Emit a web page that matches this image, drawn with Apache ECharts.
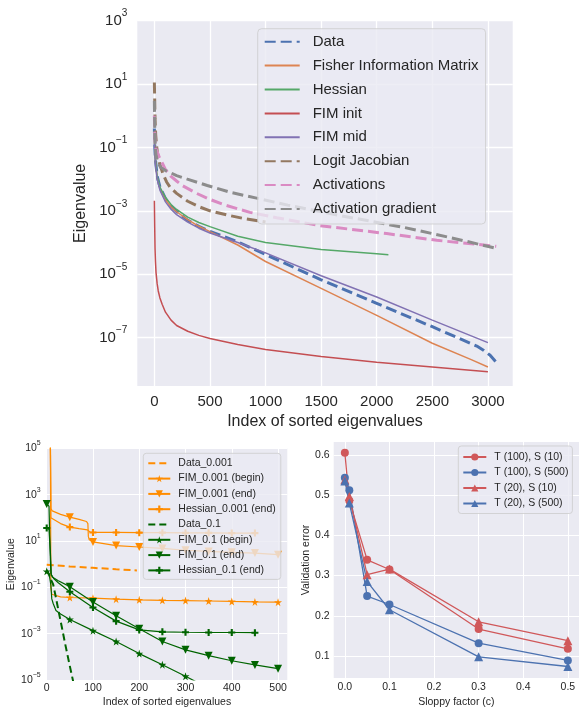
<!DOCTYPE html>
<html>
<head>
<meta charset="utf-8">
<script src="https://cdn.jsdelivr.net/npm/echarts@6/dist/echarts.min.js"></script>
<style>
  html, body { margin: 0; padding: 0; background: #ffffff; }
  #chart { width: 579px; height: 709px; }
</style>
</head>
<body>
<div id="chart"></div>
<script>
// ---------- Top panel: eigenvalue spectra ----------
const topDataIdx = [0, 4, 10, 25, 50, 100, 150, 200, 300, 400, 500, 750, 1000, 1500, 2000, 2500, 2900, 2960, 3020, 3072];
const topDataEig = [0.398, 0.1, 0.0398, 0.0126, 5.62e-3, 2.40e-3, 1.41e-3, 9.55e-4, 5.01e-4, 3.24e-4, 2.24e-4, 1.05e-4, 4.17e-5, 6.61e-6, 1.20e-6, 2.19e-7, 5.37e-8, 3.98e-8, 2.75e-8, 1.70e-8];

const fimIdx = [0, 4, 10, 25, 50, 100, 150, 200, 300, 400, 500, 750, 1000, 1500, 2000, 2500, 2850, 3000];
const fimEig = [0.316, 0.0794, 0.0355, 0.0112, 5.01e-3, 2.24e-3, 1.32e-3, 9.33e-4, 5.25e-4, 3.24e-4, 2.19e-4, 8.32e-5, 2.51e-5, 3.55e-6, 5.01e-7, 6.61e-8, 2.00e-8, 1.17e-8];

const hessIdx = [0, 4, 10, 25, 50, 100, 150, 200, 300, 400, 500, 750, 1000, 1500, 2000, 2105];
const hessEig = [0.316, 0.0794, 0.0355, 0.0120, 5.62e-3, 2.63e-3, 1.58e-3, 1.10e-3, 6.31e-4, 4.27e-4, 3.16e-4, 1.58e-4, 1.0e-4, 6.03e-5, 4.37e-5, 4.07e-5];

const fimInitIdx = [0, 3, 6, 10, 15, 25, 35, 50, 70, 100, 150, 200, 300, 400, 500, 750, 1000, 1500, 2000, 2500, 3000];
const fimInitEig = [2.09e-3, 3.16e-4, 6.31e-5, 2.51e-5, 1.12e-5, 5.01e-6, 2.95e-6, 1.78e-6, 1.12e-6, 6.31e-7, 3.55e-7, 2.40e-7, 1.58e-7, 1.17e-7, 9.33e-8, 6.03e-8, 4.17e-8, 2.51e-8, 1.66e-8, 1.17e-8, 8.32e-9];

const fimMidIdx = [0, 4, 10, 25, 50, 100, 150, 200, 300, 400, 500, 750, 1000, 1500, 2000, 2500, 3000];
const fimMidEig = [0.251, 0.0631, 0.0282, 0.01, 4.47e-3, 1.91e-3, 1.12e-3, 7.59e-4, 4.37e-4, 2.82e-4, 2.0e-4, 1.0e-4, 4.68e-5, 8.91e-6, 1.91e-6, 3.55e-7, 6.92e-8];

const logitIdx = [0, 3, 6, 12, 20, 30, 50, 80, 110, 140, 200, 300, 400, 500, 650, 800, 1000];
const logitEig = [11.2, 3.16, 0.794, 0.251, 0.112, 0.0603, 0.0282, 0.0141, 8.13e-3, 5.62e-3, 3.55e-3, 2.0e-3, 1.35e-3, 1.0e-3, 7.41e-4, 5.75e-4, 4.47e-4];

const actIdx = [0, 3, 8, 15, 27, 45, 72, 100, 144, 200, 250, 380, 500, 620, 860, 1100, 1490, 2090, 2540, 3075];
const actEig = [1.0, 0.316, 0.126, 0.0891, 0.0708, 0.0479, 0.0316, 0.0200, 0.0126, 8.71e-3, 6.31e-3, 3.55e-3, 2.29e-3, 1.58e-3, 8.91e-4, 6.03e-4, 3.39e-4, 1.91e-4, 1.17e-4, 7.59e-5];

const actGradIdx = [0, 3, 8, 15, 25, 40, 57, 100, 147, 200, 296, 476, 686, 920, 1200, 1670, 2240, 2500, 2800, 3055];
const actGradEig = [2.95, 0.501, 0.1, 0.0562, 0.0398, 0.0295, 0.0234, 0.0186, 0.0158, 0.0129, 0.01, 6.31e-3, 3.80e-3, 2.51e-3, 1.51e-3, 7.08e-4, 3.02e-4, 1.91e-4, 1.10e-4, 6.76e-5];

const topXTicks = [0, 500, 1000, 1500, 2000, 2500, 3000];
const topYTicks = [1e-7, 1e-5, 1e-3, 1e-1, 1e1, 1e3];

// ---------- Bottom-left panel: spectra for two sloppy factors ----------
const data001Idx = [0, 50, 100, 150, 195];
const data001Eig = [0.933, 0.794, 0.692, 0.603, 0.537];

const fimBegin001Idx = [0, 8, 9, 11, 15, 30, 50, 100, 150, 200, 250, 300, 350, 400, 450, 500];
const fimBegin001Eig = [3.16e5, 1.58e5, 0.1, 0.0501, 0.0437, 0.0389, 0.0363, 0.0339, 0.0309, 0.0288, 0.0275, 0.0269, 0.0257, 0.0245, 0.0234, 0.0229];

const fimEnd001Idx = [0, 8, 9, 12, 30, 50, 70, 86, 89, 90, 92, 100, 150, 200, 250, 300, 350, 400, 450, 500];
const fimEnd001Eig = [3.16e5, 1.58e5, 251, 200, 141, 107, 85.1, 69.2, 56.2, 15.8, 11.2, 9.12, 6.31, 5.50, 4.79, 3.98, 3.55, 3.24, 3.02, 2.57];

const hessEnd001Idx = [0, 8, 9, 12, 30, 50, 70, 88, 91, 95, 100, 150, 200, 250, 300, 350, 400, 450];
const hessEnd001Eig = [3.16e5, 1.58e5, 100, 83.2, 56.2, 39.8, 33.9, 30.2, 25.1, 23.4, 23.4, 23.4, 22.9, 22.9, 22.4, 22.4, 21.9, 21.9];

const data01Idx = [0, 5, 10, 14, 20, 25, 32, 40, 50, 62];
const data01Eig = [0.562, 0.355, 0.2, 0.132, 0.0355, 0.011, 2.24e-3, 3.55e-4, 3.98e-5, 3.16e-6];

const fimBegin01Idx = [0, 5, 9, 11, 14, 20, 30, 50, 100, 150, 200, 250, 300, 335];
const fimBegin01Eig = [0.490, 0.398, 0.126, 0.0316, 0.02, 0.01, 7.08e-3, 4.07e-3, 1.35e-3, 4.57e-4, 1.38e-4, 4.57e-5, 1.45e-5, 6.31e-6];

const fimEnd01Idx = [0, 5, 7, 9, 12, 25, 50, 100, 150, 200, 250, 300, 350, 400, 450, 500];
const fimEnd01Eig = [398, 316, 6.31, 0.398, 0.282, 0.191, 0.107, 0.0234, 5.89e-3, 1.62e-3, 4.57e-4, 2.0e-4, 1.12e-4, 6.76e-5, 4.47e-5, 3.09e-5];

const hessEnd01Idx = [0, 5, 8, 10, 15, 25, 50, 100, 150, 200, 250, 300, 350, 400, 450];
const hessEnd01Eig = [36.3, 31.6, 3.16, 0.355, 0.24, 0.158, 0.0646, 0.0135, 3.47e-3, 1.45e-3, 1.20e-3, 1.15e-3, 1.12e-3, 1.12e-3, 1.10e-3];

const blXTicks = [0, 100, 200, 300, 400, 500];
const blYTicks = [1e-5, 1e-3, 1e-1, 1e1, 1e3, 1e5];

// ---------- Bottom-right panel: validation error vs sloppy factor ----------
const sloppy = [0.0, 0.01, 0.05, 0.1, 0.3, 0.5];
const errT100S10 = [0.605, 0.486, 0.339, 0.315, 0.167, 0.118];
const errT100S500 = [0.543, 0.512, 0.249, 0.228, 0.132, 0.089];
const errT20S10 = [0.538, 0.496, 0.302, 0.316, 0.185, 0.138];
const errT20S500 = [0.535, 0.480, 0.285, 0.215, 0.098, 0.074];

const brXTicks = [0.0, 0.1, 0.2, 0.3, 0.4, 0.5];
const brYTicks = [0.1, 0.2, 0.3, 0.4, 0.5, 0.6];

// ---------- helpers ----------
const FONT = "'Liberation Sans', Arial, sans-serif";
const INK = '#262626';
const PANEL = '#EAEAF2';

const STAR = 'path://M50,0 L61,35 L98,35 L68,57 L79,91 L50,70 L21,91 L32,57 L2,35 L39,35 Z';
const TRI_DOWN = 'path://M0,0 L100,0 L50,87 Z';
const PLUS = 'path://M35,0 H65 V35 H100 V65 H65 V100 H35 V65 H0 V35 H35 Z';

function pairs(xs, ys) { return xs.map((x, i) => [x, ys[i]]); }
// markers only every `step` indices
function marked(xs, ys, step) {
  return xs.map((x, i) => (x % step === 0) ? [x, ys[i]] : { value: [x, ys[i]], symbol: 'none' });
}
function powLabel(v) {
  const e = Math.round(Math.log10(v));
  return '{b|10}{s|' + (e < 0 ? '\u2212' + (-e) : e) + '}';
}
function supRich(big, small, lh) {
  return {
    b: { fontSize: big, fontFamily: FONT, color: INK, lineHeight: lh },
    s: { fontSize: small, fontFamily: FONT, color: INK, verticalAlign: 'top', lineHeight: small }
  };
}
const gridLine = (w) => ({ show: true, lineStyle: { color: '#ffffff', width: w } });
// legend entry that shows only the line sample
const lineOnly = (name) => ({ name, itemStyle: { opacity: 0 } });

const dashLong = [11, 5];
function topLine(name, xs, ys, color, dashed) {
  return {
    name, type: 'line', xAxisIndex: 0, yAxisIndex: 0,
    data: pairs(xs, ys), symbol: 'none',
    lineStyle: { color, width: dashed ? 3 : 1.5, type: dashed ? dashLong : 'solid' },
    itemStyle: { color }, z: 2
  };
}
function blLine(name, xs, ys, color, symbol, dashed, size) {
  return {
    name, type: 'line', xAxisIndex: 1, yAxisIndex: 1,
    data: symbol ? marked(xs, ys, 50) : pairs(xs, ys),
    symbol: symbol || 'none', symbolSize: size || 7,
    lineStyle: { color, width: dashed ? 2 : 1.2, type: dashed ? [7, 4] : 'solid' },
    itemStyle: { color }, z: 2
  };
}
function brLine(name, ys, color, symbol) {
  return {
    name, type: 'line', xAxisIndex: 2, yAxisIndex: 2,
    data: pairs(sloppy, ys), symbol, symbolSize: symbol === 'circle' ? 8 : 9,
    lineStyle: { color, width: 1.3 }, itemStyle: { color }, z: 2
  };
}

const ORANGE = '#FF8C00';
const GREEN = '#006400';
const RED = '#D0585A';
const BLUE = '#4C72B0';

const option = {
  animation: false,
  backgroundColor: '#ffffff',
  textStyle: { fontFamily: FONT, color: INK },
  grid: [
    { left: 137.3, top: 20.7, width: 375.4, height: 365.3, show: true, backgroundColor: PANEL, borderWidth: 0, containLabel: false },
    { left: 46.7, top: 448.3, width: 240.6, height: 232.4, show: true, backgroundColor: PANEL, borderWidth: 0, containLabel: false },
    { left: 333.7, top: 442, width: 248.3, height: 238.7, show: true, backgroundColor: PANEL, borderWidth: 0, containLabel: false }
  ],
  xAxis: [
    {
      type: 'value', gridIndex: 0, min: -153.5, max: 3223,
      axisLine: { show: false }, axisTick: { show: false, customValues: topXTicks },
      axisLabel: { customValues: topXTicks, fontSize: 15, color: INK, fontFamily: FONT, margin: 8,
                   formatter: (v) => String(v) },
      splitLine: gridLine(1.3),
      name: 'Index of sorted eigenvalues', nameLocation: 'middle', nameGap: 21,
      nameTextStyle: { fontSize: 16, color: INK, fontFamily: FONT }
    },
    {
      type: 'value', gridIndex: 1, min: 0, max: 520,
      axisLine: { show: false }, axisTick: { show: false, customValues: blXTicks },
      axisLabel: { customValues: blXTicks, fontSize: 10.5, color: INK, fontFamily: FONT, margin: 3,
                   formatter: (v) => String(v) },
      splitLine: gridLine(1),
      name: 'Index of sorted eigenvalues', nameLocation: 'middle', nameGap: 17,
      nameTextStyle: { fontSize: 10.5, color: INK, fontFamily: FONT }
    },
    {
      type: 'value', gridIndex: 2, min: -0.025, max: 0.525,
      axisLine: { show: false }, axisTick: { show: false, customValues: brXTicks },
      axisLabel: { customValues: brXTicks, fontSize: 10.5, color: INK, fontFamily: FONT, margin: 4,
                   formatter: (v) => v.toFixed(1) },
      splitLine: gridLine(1),
      name: 'Sloppy factor (c)', nameLocation: 'middle', nameGap: 19,
      nameTextStyle: { fontSize: 10.5, color: INK, fontFamily: FONT }
    }
  ],
  yAxis: [
    {
      type: 'log', logBase: 10, gridIndex: 0, min: 2.95e-9, max: 1000,
      axisLine: { show: false }, axisTick: { show: false, customValues: topYTicks },
      axisLabel: { customValues: topYTicks, formatter: powLabel, rich: supRich(15, 10, 24), margin: 10 },
      splitLine: gridLine(1.3),
      name: 'Eigenvalue', nameLocation: 'middle', nameGap: 45,
      nameTextStyle: { fontSize: 16, color: INK, fontFamily: FONT }
    },
    {
      type: 'log', logBase: 10, gridIndex: 1, min: 1e-5, max: 1e5,
      axisLine: { show: false }, axisTick: { show: false, customValues: blYTicks },
      axisLabel: { customValues: blYTicks, formatter: powLabel, rich: supRich(10.5, 7, 17), margin: 6 },
      splitLine: gridLine(1),
      name: 'Eigenvalue', nameLocation: 'middle', nameGap: 30,
      nameTextStyle: { fontSize: 10.5, color: INK, fontFamily: FONT }
    },
    {
      type: 'value', gridIndex: 2, min: 0.0454, max: 0.6317,
      axisLine: { show: false }, axisTick: { show: false, customValues: brYTicks },
      axisLabel: { customValues: brYTicks, fontSize: 10.5, color: INK, fontFamily: FONT, margin: 4,
                   formatter: (v) => v.toFixed(1) },
      splitLine: gridLine(1),
      name: 'Validation error', nameLocation: 'middle', nameGap: 21,
      nameTextStyle: { fontSize: 10.5, color: INK, fontFamily: FONT }
    }
  ],
  legend: [
    {
      data: ['Data', 'Fisher Information Matrix', 'Hessian', 'FIM init', 'FIM mid', 'Logit Jacobian', 'Activations', 'Activation gradient'].map(lineOnly),
      orient: 'vertical', left: 257.7, top: 28.7, selectedMode: false,
      itemWidth: 35, itemHeight: 10, itemGap: 7.9, padding: [5, 7, 7, 6],
      backgroundColor: 'rgba(234,234,242,0.8)', borderColor: 'rgba(204,204,204,0.8)', borderWidth: 1, borderRadius: 4,
      textStyle: { fontSize: 15, color: INK, fontFamily: FONT, lineHeight: 16, padding: [0, 0, 0, 8] }
    },
    {
      data: [lineOnly('Data_0.001'), 'FIM_0.001 (begin)', 'FIM_0.001 (end)', 'Hessian_0.001 (end)', lineOnly('Data_0.1'), 'FIM_0.1 (begin)', 'FIM_0.1 (end)', 'Hessian_0.1 (end)'],
      orient: 'vertical', left: 143.3, top: 453.3, selectedMode: false,
      itemWidth: 22, itemHeight: 9, itemGap: 3.3, padding: [4, 5, 3, 4],
      backgroundColor: 'rgba(234,234,242,0.8)', borderColor: 'rgba(204,204,204,0.8)', borderWidth: 1, borderRadius: 3,
      textStyle: { fontSize: 10.5, color: INK, fontFamily: FONT, lineHeight: 12, padding: [0, 0, 0, 3] }
    },
    {
      data: ['T (100), S (10)', 'T (100), S (500)', 'T (20), S (10)', 'T (20), S (500)'],
      orient: 'vertical', left: 458.3, top: 446, selectedMode: false,
      itemWidth: 23, itemHeight: 9, itemGap: 3.5, padding: [5, 4, 4, 4],
      backgroundColor: 'rgba(234,234,242,0.8)', borderColor: 'rgba(204,204,204,0.8)', borderWidth: 1, borderRadius: 3,
      textStyle: { fontSize: 10.5, color: INK, fontFamily: FONT, lineHeight: 12, padding: [0, 0, 0, 3] }
    }
  ],
  series: [
    topLine('Data', topDataIdx, topDataEig, '#4C72B0', true),
    topLine('Fisher Information Matrix', fimIdx, fimEig, '#DD8452', false),
    topLine('Hessian', hessIdx, hessEig, '#55A868', false),
    topLine('FIM init', fimInitIdx, fimInitEig, '#C44E52', false),
    topLine('FIM mid', fimMidIdx, fimMidEig, '#8172B3', false),
    topLine('Logit Jacobian', logitIdx, logitEig, '#937860', true),
    topLine('Activations', actIdx, actEig, '#DA8BC3', true),
    topLine('Activation gradient', actGradIdx, actGradEig, '#8C8C8C', true),

    blLine('Data_0.001', data001Idx, data001Eig, ORANGE, null, true),
    blLine('FIM_0.001 (begin)', fimBegin001Idx, fimBegin001Eig, ORANGE, STAR, false, 8),
    blLine('FIM_0.001 (end)', fimEnd001Idx, fimEnd001Eig, ORANGE, TRI_DOWN, false, 8),
    blLine('Hessian_0.001 (end)', hessEnd001Idx, hessEnd001Eig, ORANGE, PLUS, false, 7),
    blLine('Data_0.1', data01Idx, data01Eig, GREEN, null, true),
    blLine('FIM_0.1 (begin)', fimBegin01Idx, fimBegin01Eig, GREEN, STAR, false, 8),
    blLine('FIM_0.1 (end)', fimEnd01Idx, fimEnd01Eig, GREEN, TRI_DOWN, false, 8),
    blLine('Hessian_0.1 (end)', hessEnd01Idx, hessEnd01Eig, GREEN, PLUS, false, 7),

    brLine('T (100), S (10)', errT100S10, RED, 'circle'),
    brLine('T (100), S (500)', errT100S500, BLUE, 'circle'),
    brLine('T (20), S (10)', errT20S10, RED, 'triangle'),
    brLine('T (20), S (500)', errT20S500, BLUE, 'triangle')
  ]
};

const chart = echarts.init(document.getElementById('chart'), null, { renderer: 'canvas' });
chart.setOption(option);
</script>
</body>
</html>
